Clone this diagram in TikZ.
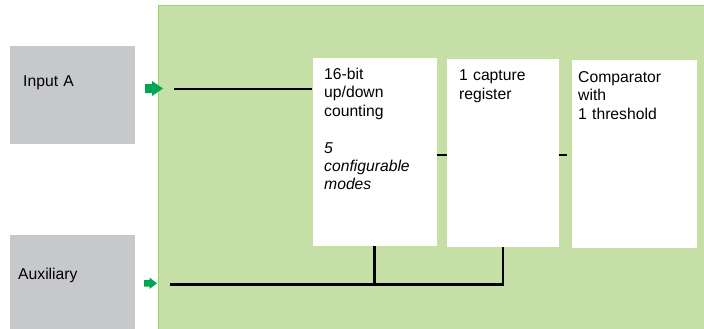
\documentclass[tikz,border=0pt]{standalone}
\usepackage{fontspec}
\setmainfont{Liberation Sans}
\definecolor{panelgreen}{HTML}{C5DFA6}
\definecolor{panelline}{HTML}{9ED36A}
\definecolor{srcgray}{HTML}{C7C8CA}
\definecolor{arrowgreen}{HTML}{00A651}
\tikzset{
  srcbox/.style={fill=srcgray, minimum width=125pt, minimum height=98pt, inner sep=0pt},
  funcbox/.style={fill=white, minimum height=188pt, inner sep=0pt},
  boxtext/.style={anchor=base west, inner sep=0pt, text width=#1, align=left,
    font=\fontsize{15.7}{18.5}\selectfont},
  wire/.style={line width=2.7pt, black},
}
\begin{document}
\begin{tikzpicture}[x=1pt, y=-1pt]
    \useasboundingbox (0,0) rectangle (704,329);

    % green panel
    \fill[panelgreen] (158,6) rectangle (710,335);
    \draw[panelline, line width=1pt] (710,6) -- (158,6) -- (158,335);

    % sources
    \node[srcbox] (inA) at (72,95) {};
    \node[srcbox] (aux) at (72,284) {};
    \node[boxtext=100pt] (inAtext) at (23,86) {Input A};
    \node[boxtext=100pt] (auxtext) at (18,279) {Auxiliary};

    % function blocks
    \node[funcbox, minimum width=124pt] (count) at (374.5,152) {};
    \node[funcbox, minimum width=112pt] (capt) at (503,153) {};
    \node[funcbox, minimum width=125pt] (comp) at (634.5,154) {};

    \node[boxtext=110pt] (counttext) at (324,79)
      {16-bit\\up/down\\counting\\[18.5pt]\textit{5}\\\textit{configurable}\\\textit{modes}};
    \node[boxtext=100pt] (capttext) at (459,81) {1 capture\\register};
    \node[boxtext=115pt] (comptext) at (578,82) {Comparator\\with\\1 threshold};

    % input arrows
    \fill[arrowgreen] (145,84) -- (152,84) -- (152,81) -- (163,88.5) -- (152,96)
      -- (152,93) -- (145,93) -- cycle;
    \fill[arrowgreen] (144,280) -- (149.5,280) -- (149.5,277.5) -- (157,283.3)
      -- (149.5,289) -- (149.5,286.5) -- (144,286.5) -- cycle;

    % wires
    \coordinate (inAend) at (174,89);
    \coordinate (auxend) at (170,284.5);
    \coordinate (link) at (0,155);
    \draw[wire] (inAend) -- (inAend -| count.west);
    \draw[wire] (auxend) -| (capt.south);
    \draw[wire] (count.south) -- (count.south |- auxend);
    \draw[wire] (count.east |- link) -- (capt.west |- link);
    \draw[wire] (capt.east |- link) -- ++(8,0);
\end{tikzpicture}
\end{document}
